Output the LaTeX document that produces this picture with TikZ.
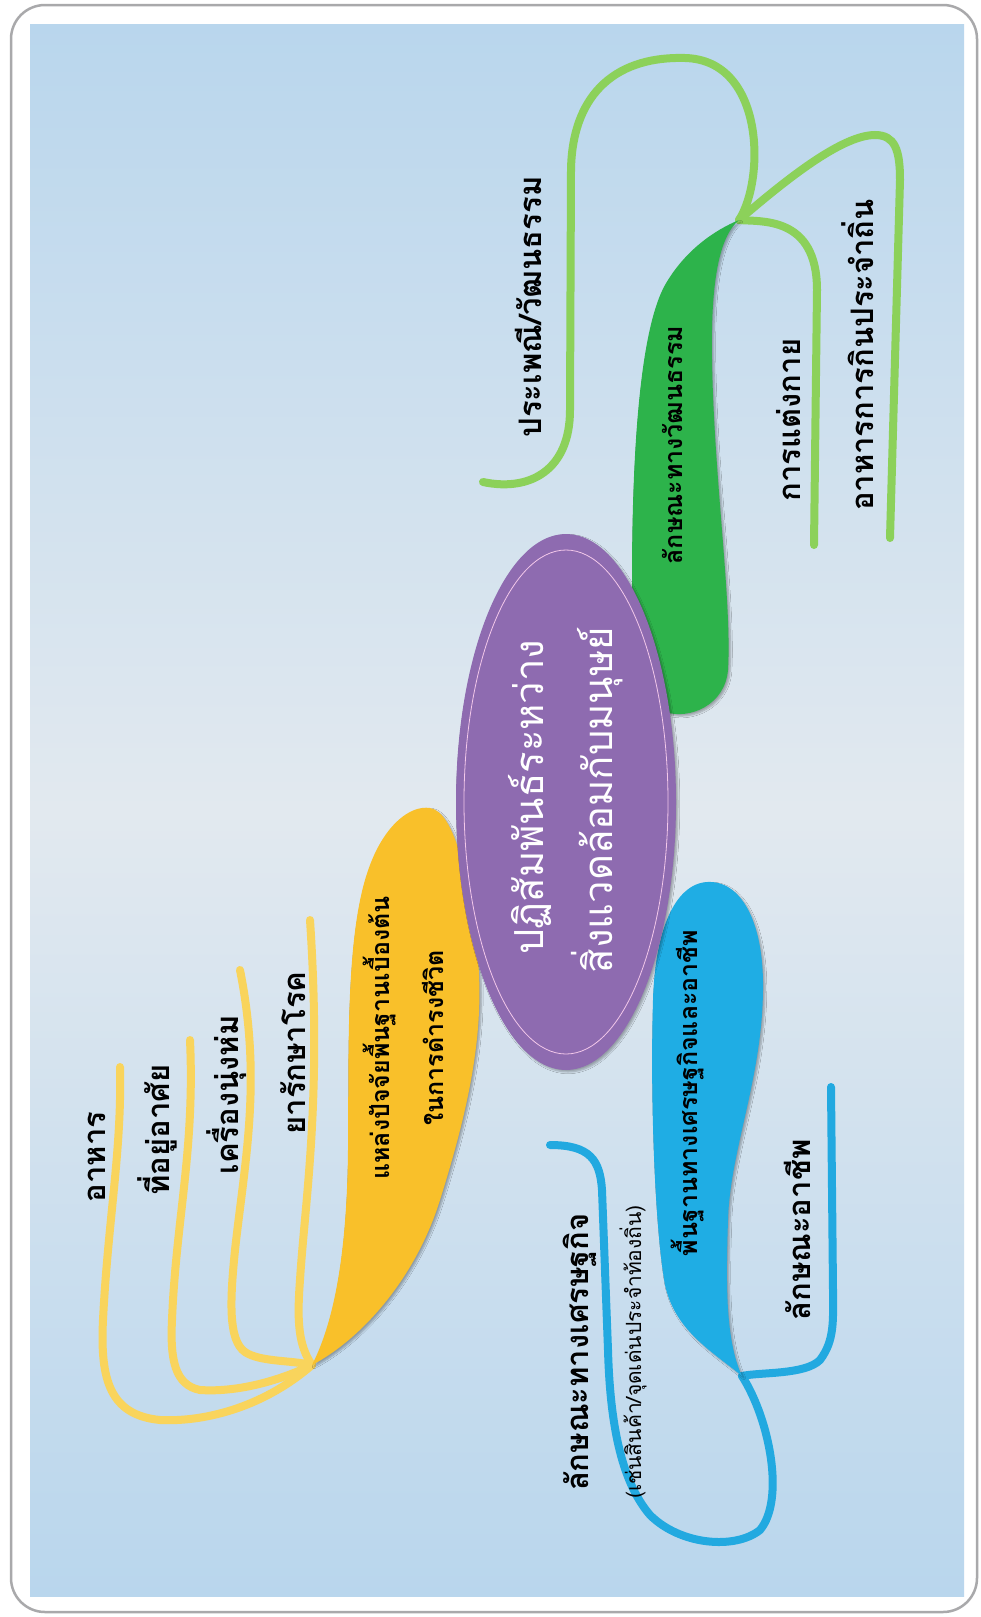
\documentclass[tikz,border=0pt]{standalone}
\usepackage{fontspec}
\newfontfamily\thaifont[Script=Thai]{Loma}
\usetikzlibrary{shadows.blur}
\definecolor{bgedge}{HTML}{B9D6ED}
\definecolor{bgmid}{HTML}{E2E9EF}
\definecolor{frame}{HTML}{A9A9AB}
\definecolor{purp}{HTML}{8E6BB0}
\definecolor{purpline}{HTML}{F3C8EA}
\definecolor{leafgreen}{HTML}{2DB34B}
\definecolor{linegreen}{HTML}{8CD15A}
\definecolor{leafyellow}{HTML}{F9C02A}
\definecolor{lineyellow}{HTML}{F9D45C}
\definecolor{leafblue}{HTML}{1FADE4}
\definecolor{lineblue}{HTML}{22A9E0}
\tikzset{
  conn/.style={line width=8pt, line cap=round},
  leafshadow/.style={blur shadow={shadow blur steps=6, shadow xshift=2pt, shadow yshift=-2pt, shadow opacity=30}},
  lab/.style={rotate=90, inner sep=0pt, text=black, font=\thaifont\bfseries\fontsize{31}{37}\selectfont},
  inlab/.style={rotate=90, inner sep=0pt, text=black, font=\thaifont\bfseries\fontsize{25}{30}\selectfont},
  smalllab/.style={rotate=90, inner sep=0pt, text=black, font=\thaifont\fontsize{21}{25}\selectfont},
  centrelab/.style={rotate=90, inner sep=0pt, text=white, font=\thaifont\fontsize{40}{46}\selectfont}
}
\begin{document}
\begin{tikzpicture}[x=1pt,y=-1pt]
\useasboundingbox (0,0) rectangle (981,1617);
% frame and background
\fill[white] (0,0) rectangle (981,1617);
\draw[frame, line width=2.5pt, rounded corners=34pt] (11,5) rectangle (977,1612);
\shade[top color=bgedge, bottom color=bgedge, middle color=bgmid] (30,24) rectangle (964,1596);

% tips and free ends
\coordinate (gtip) at (739,220);
\coordinate (ytip) at (312,1365);
\coordinate (btip) at (742,1376);
\coordinate (gend1) at (483,482);
\coordinate (gend2) at (890,538);
\coordinate (gend3) at (814,545);
\coordinate (yend1) at (120,1067);
\coordinate (yend2) at (190,1040);
\coordinate (yend3) at (240,970);
\coordinate (yend4) at (310,920);
\coordinate (bend1) at (831,1087);
\coordinate (bend2) at (550,1145);

% green connectors
\draw[conn, linegreen] (gtip) .. controls (765,180) and (765,60) .. (685,58)
  .. controls (610,56) and (572,100) .. (571,170) -- (570,410)
  .. controls (570,470) and (530,492) .. (gend1);
\draw[conn, linegreen] (gtip) .. controls (780,185) and (840,135) .. (875,135)
  .. controls (895,135) and (900,150) .. (900,180) -- (gend2);
\draw[conn, linegreen] (gtip) .. controls (760,222) and (817,215) .. (817,290) -- (gend3);

% yellow connectors
\draw[conn, lineyellow] (ytip) .. controls (260,1410) and (200,1422) .. (160,1420)
  .. controls (110,1415) and (100,1380) .. (103,1320)
  .. controls (108,1220) and (122,1150) .. (yend1);
\draw[conn, lineyellow] (ytip) .. controls (270,1385) and (230,1392) .. (200,1390)
  .. controls (175,1385) and (170,1360) .. (172,1320)
  .. controls (176,1220) and (195,1150) .. (yend2);
\draw[conn, lineyellow] (ytip) .. controls (290,1360) and (260,1362) .. (245,1352)
  .. controls (228,1340) and (230,1300) .. (235,1250)
  .. controls (245,1160) and (262,1080) .. (yend3);
\draw[conn, lineyellow] (ytip) .. controls (298,1345) and (297,1320) .. (300,1280)
  .. controls (305,1200) and (322,1100) .. (yend4);

% blue connectors
\draw[conn, lineblue] (btip) .. controls (760,1372) and (805,1375) .. (820,1360)
  .. controls (835,1340) and (833,1320) .. (833,1290) -- (bend1);
\draw[conn, lineblue] (btip) .. controls (770,1420) and (785,1500) .. (760,1530)
  .. controls (735,1550) and (680,1545) .. (650,1515)
  .. controls (620,1480) and (610,1420) .. (608,1350) -- (602,1190)
  .. controls (600,1160) and (590,1145) .. (bend2);

% leaves
\fill[leafgreen, leafshadow] (gtip) .. controls (715,240) and (711,300) .. (712,360)
  .. controls (714,480) and (732,600) .. (728,670)
  .. controls (725,705) and (690,720) .. (665,712)
  .. controls (640,700) and (632,640) .. (632,580)
  .. controls (632,450) and (640,330) .. (665,285)
  .. controls (685,250) and (715,230) .. (gtip) -- cycle;
\fill[leafyellow, leafshadow] (ytip) .. controls (335,1320) and (347,1250) .. (348,1150)
  .. controls (349,1050) and (345,930) .. (370,865)
  .. controls (385,825) and (410,805) .. (430,808)
  .. controls (455,812) and (470,880) .. (478,960)
  .. controls (485,1040) and (465,1120) .. (440,1200)
  .. controls (415,1280) and (360,1340) .. (ytip) -- cycle;
\fill[leafblue, leafshadow] (btip) .. controls (725,1340) and (726,1280) .. (728,1220)
  .. controls (730,1150) and (762,1080) .. (763,990)
  .. controls (764,920) and (740,880) .. (707,882)
  .. controls (675,884) and (655,930) .. (653,1000)
  .. controls (650,1100) and (655,1230) .. (665,1285)
  .. controls (675,1330) and (710,1350) .. (btip) -- cycle;

% centre ellipse
\fill[purp, leafshadow] (566,802) ellipse [x radius=110, y radius=268];
\draw[purpline, line width=0.8pt] (566,802) ellipse [x radius=102, y radius=252];

% texts
\node[centrelab] (c1) at (530,797) {ปฏิสัมพันธ์ระหว่าง};
\node[centrelab] (c2) at (597,800) {สิ่งแวดล้อมกับมนุษย์};

\node[inlab] (g0) at (672,445) {ลักษณะทางวัฒนธรรม};
\node[lab] (g1) at (528,307) {ประเพณี/วัฒนธรรม};
\node[lab] (g2) at (858,355) {อาหารการกินประจำถิ่น};
\node[lab] (g3) at (789,420) {การแต่งกาย};

\node[inlab] (y0a) at (380,1038) {แหล่งปัจจัยพื้นฐานเบื้องต้น};
\node[inlab] (y0b) at (433,1038) {ในการดำรงชีวิต};
\node[lab] (y1) at (97,1157) {อาหาร};
\node[lab] (y2) at (157,1130) {ที่อยู่อาศัย};
\node[lab] (y3) at (227,1095) {เครื่องนุ่งห่ม};
\node[lab] (y4) at (293,1053) {ยารักษาโรค};

\node[inlab] (b0) at (688,1093) {พื้นฐานทางเศรษฐกิจและอาชีพ};
\node[lab] (b1) at (797,1230) {ลักษณะอาชีพ};
\node[lab] (b2) at (580,1352) {ลักษณะทางเศรษฐกิจ};
\node[smalllab] (b2s) at (633,1352) {(เช่นสินค้า/จุดเด่นประจำท้องถิ่น)};
\end{tikzpicture}
\end{document}
